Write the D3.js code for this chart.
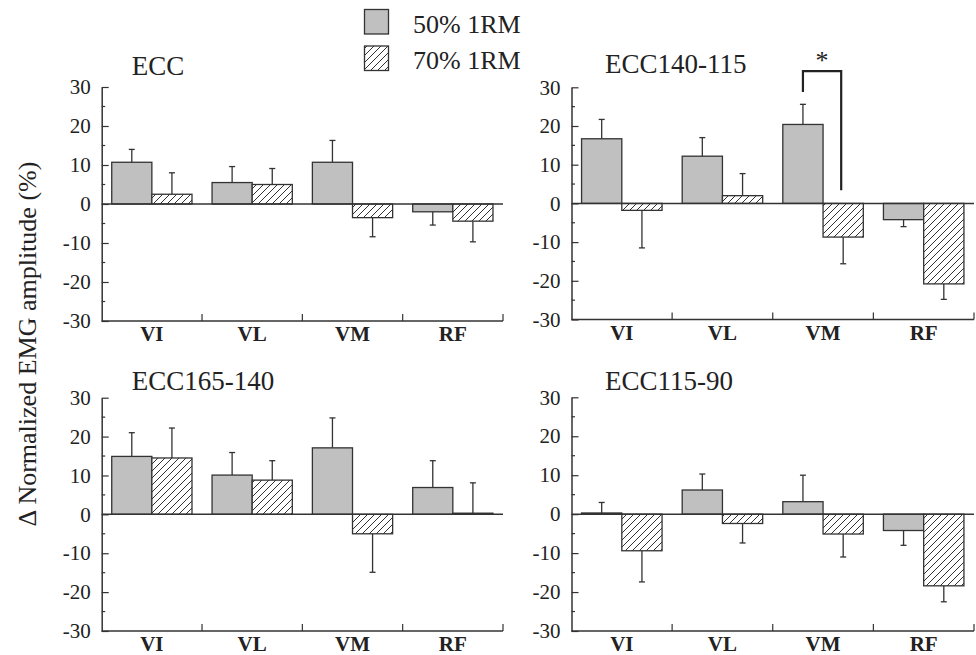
<!DOCTYPE html>
<html><head><meta charset="utf-8">
<script src="https://cdn.jsdelivr.net/npm/d3@7"></script>
<style>body{margin:0;background:#fff}svg{display:block}</style>
</head><body>
<script>
const muscles = ["VI", "VL", "VM", "RF"];
const seriesNames = ["50% 1RM", "70% 1RM"];
const panelTitles = ["ECC", "ECC140-115", "ECC165-140", "ECC115-90"];
const yTicks = [30, 20, 10, 0, -10, -20, -30];
// means per panel
const mean50 = [[10.7, 5.5, 10.7, -2.0], [16.7, 12.2, 20.4, -4.2], [14.9, 10.1, 17.1, 6.9], [0.3, 6.2, 3.2, -4.2]];
const sd50   = [[3.3, 4.1, 5.6, 3.4], [5.0, 4.8, 5.2, 1.8], [6.1, 5.8, 7.7, 6.9], [2.7, 4.1, 6.8, 3.8]];
const mean70 = [[2.5, 5.0, -3.5, -4.4], [-1.8, 2.0, -8.7, -20.8], [14.5, 8.8, -5.0, 0.3], [-9.4, -2.4, -5.1, -18.4]];
const sd70   = [[5.5, 4.1, 4.9, 5.3], [9.7, 5.7, 6.9, 4.0], [7.7, 5.0, 9.9, 7.8], [8.0, 5.0, 5.9, 4.1]];
// significance bracket (panel 2, VM): [leftBottom, top, rightBottom] in data units
const sigBracket = {panel: 1, muscle: "VM", y: [28.8, 34.2, 3.4], label: "*"};

const W = 976, H = 655;
const svg = d3.select("body").append("svg").attr("width", W).attr("height", H)
  .style("font-family", "'Liberation Serif','Times New Roman',serif");

const defs = svg.append("defs");
const pat = defs.append("pattern").attr("id", "hatch").attr("patternUnits", "userSpaceOnUse")
  .attr("width", 7).attr("height", 7);
pat.append("rect").attr("width", 7).attr("height", 7).attr("fill", "#fff");
pat.append("path").attr("d", "M0,7 L7,0 M-2,2 L2,-2 M5,9 L9,5").attr("stroke", "#333").attr("stroke-width", 1);

const panels = [
  {x0: 101.7, x1: 503, y0: 87, y1: 321, tx: 131.7, ty: 75},
  {x0: 571.5, x1: 974, y0: 87.3, y1: 319.5, tx: 605, ty: 73},
  {x0: 101.7, x1: 503, y0: 397.7, y1: 631, tx: 131.7, ty: 390},
  {x0: 571.5, x1: 974, y0: 397.3, y1: 631, tx: 605, ty: 390}
];
const stroke = "#333";

panels.forEach((p, pi) => {
  const g = svg.append("g");
  const x = d3.scaleBand().domain(muscles).range([p.x0, p.x1]).paddingInner(0).paddingOuter(0);
  const x1 = d3.scaleBand().domain(seriesNames).range([0, x.bandwidth()]).paddingInner(0).paddingOuter(0.25);
  const y = d3.scaleLinear().domain([-30, 30]).range([p.y1, p.y0]);

  // title
  g.append("text").attr("x", p.tx).attr("y", p.ty).attr("font-size", 27).attr("fill", "#222").text(panelTitles[pi]);

  const data = [];
  muscles.forEach((m, i) => {
    data.push({m, s: seriesNames[0], v: mean50[pi][i], sd: sd50[pi][i]});
    data.push({m, s: seriesNames[1], v: mean70[pi][i], sd: sd70[pi][i]});
  });

  // error bars
  data.forEach(d => {
    const cx = x(d.m) + x1(d.s) + x1.bandwidth() / 2;
    const end = d.v >= 0 ? d.v + d.sd : d.v - d.sd;
    g.append("line").attr("x1", cx).attr("x2", cx).attr("y1", y(d.v)).attr("y2", y(end))
      .attr("stroke", stroke).attr("stroke-width", 1.3);
    g.append("line").attr("x1", cx - 3).attr("x2", cx + 3).attr("y1", y(end)).attr("y2", y(end))
      .attr("stroke", stroke).attr("stroke-width", 1.3);
  });

  // bars
  g.selectAll("rect.bar").data(data).join("rect").attr("class", "bar")
    .attr("x", d => x(d.m) + x1(d.s))
    .attr("width", x1.bandwidth())
    .attr("y", d => Math.min(y(d.v), y(0)))
    .attr("height", d => Math.abs(y(d.v) - y(0)))
    .attr("fill", d => d.s === seriesNames[0] ? "#c0c0c0" : "url(#hatch)")
    .attr("stroke", stroke).attr("stroke-width", 1.3);

  // zero line
  g.append("line").attr("x1", p.x0).attr("x2", p.x1).attr("y1", y(0)).attr("y2", y(0))
    .attr("stroke", stroke).attr("stroke-width", 1.5);

  // y axis
  const yAxis = d3.axisLeft(y).tickValues(yTicks).tickSizeInner(-7).tickSizeOuter(0).tickPadding(11).tickFormat(d3.format("d"));
  const ya = g.append("g").attr("transform", `translate(${p.x0},0)`).call(yAxis);
  ya.select(".domain").attr("stroke", stroke).attr("stroke-width", 1.5);
  ya.selectAll(".tick line").attr("stroke", stroke).attr("stroke-width", 1.2);
  ya.selectAll(".tick text").attr("font-size", 21).attr("fill", "#222")
    .style("font-family", "'Liberation Serif','Times New Roman',serif")
    .text(d => d < 0 ? "-" + Math.abs(d) : d);
  // minor ticks
  const minor = d3.range(-25, 30, 10);
  g.selectAll("line.minor").data(minor).join("line").attr("class", "minor")
    .attr("x1", p.x0).attr("x2", p.x0 + 3.5).attr("y1", d => y(d)).attr("y2", d => y(d))
    .attr("stroke", stroke).attr("stroke-width", 1.2);

  // x axis
  g.append("line").attr("x1", p.x0).attr("x2", p.x1).attr("y1", p.y1).attr("y2", p.y1)
    .attr("stroke", stroke).attr("stroke-width", 1.5);
  muscles.forEach((m, i) => {
    const xe = x(m) + x.bandwidth();
    g.append("line").attr("x1", xe).attr("x2", xe).attr("y1", p.y1).attr("y2", p.y1 - 7)
      .attr("stroke", stroke).attr("stroke-width", 1.2);
    g.append("text").attr("x", x(m) + x.bandwidth() / 2).attr("y", p.y1 + 20)
      .attr("text-anchor", "middle").attr("font-size", 21).attr("font-weight", "bold").attr("fill", "#222").text(m);
  });

  // significance
  if (pi === sigBracket.panel) {
    const xl = x(sigBracket.muscle) + x1(seriesNames[0]) + x1.bandwidth() / 2;
    const xr = x(sigBracket.muscle) + x1(seriesNames[1]) + x1.bandwidth() / 2 - 2;
    const [yl, yt, yr] = sigBracket.y;
    g.append("path").attr("d", `M${xl},${y(yl)} V${y(yt)} H${xr} V${y(yr)}`)
      .attr("fill", "none").attr("stroke", "#222").attr("stroke-width", 2.2);
    g.append("text").attr("x", (xl + xr) / 2).attr("y", y(yt) - 2).attr("text-anchor", "middle")
      .attr("font-size", 26).attr("fill", "#222").text(sigBracket.label);
  }
});

// legend
const lg = svg.append("g");
seriesNames.forEach((s, i) => {
  const yy = 9.5 + i * 36.5;
  lg.append("rect").attr("x", 364.5).attr("y", yy).attr("width", 24).attr("height", 24.5)
    .attr("fill", i === 0 ? "#c0c0c0" : "url(#hatch)").attr("stroke", stroke).attr("stroke-width", 1.3);
  lg.append("text").attr("x", 413).attr("y", yy + 23).attr("font-size", 26).attr("fill", "#222").text(s);
});

// y label
svg.append("text").attr("transform", "translate(36,344) rotate(-90)").attr("text-anchor", "middle")
  .attr("font-size", 26).attr("fill", "#222").text("\u0394 Normalized EMG amplitude (%)");
</script>
</body></html>
